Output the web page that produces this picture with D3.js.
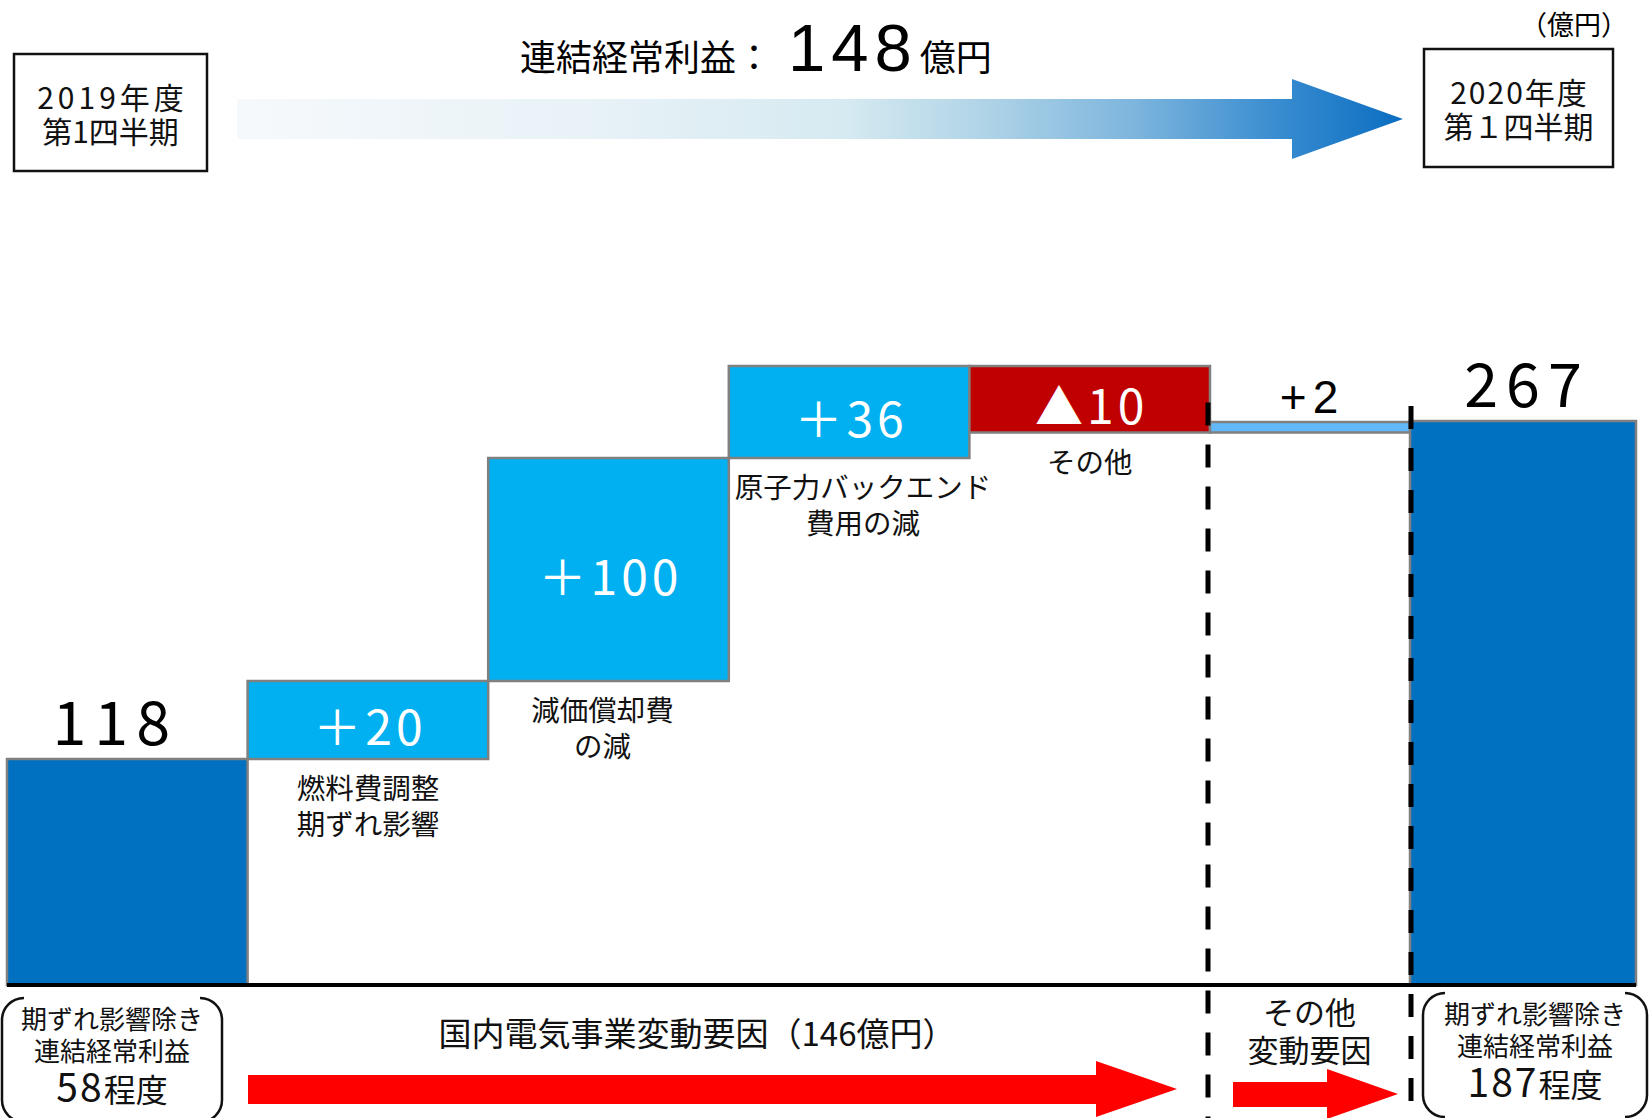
<!DOCTYPE html>
<html><head><meta charset="utf-8">
<script src="https://cdn.jsdelivr.net/npm/d3@7"></script>
<style>body{margin:0;background:#fff} svg{display:block}</style>
</head><body><svg id="c" width="1650" height="1118"></svg>
<script>
// ---------- data ----------
const categories = ["2019年度第1四半期", "燃料費調整期ずれ影響", "減価償却費の減", "原子力バックエンド費用の減", "その他", "その他変動要因", "2020年度第1四半期"];
const values = [118, 20, 100, 36, -10, 2, 267];
const kinds = ["total", "up", "up", "up", "down", "other", "total"];
const valueLabels = ["118", "＋20", "＋100", "＋36", "▲10", "+2", "267"];
const categoryLabels = [[], ["燃料費調整", "期ずれ影響"], ["減価償却費", "の減"], ["原子力バックエンド", "費用の減"], ["その他"], [], []];
const mainGroup = categories.slice(0, 5);
const tailGroup = categories.slice(5);
const titleParts = ["連結経常利益：", "148", "億円"];
const startPeriod = ["2019年度", "第1四半期"];
const endPeriod = ["2020年度", "第１四半期"];
const startAdjusted = ["期ずれ影響除き", "連結経常利益", "58", "程度"];
const endAdjusted = ["期ずれ影響除き", "連結経常利益", "187", "程度"];
const groupLabel1 = "国内電気事業変動要因（146億円）";
const groupLabel2 = ["その他", "変動要因"];
const unitLabel = "（億円）";

// ---------- layout ----------
const W = 1650, H = 1118;
const CJK = "'Noto Sans CJK JP', 'Noto Sans CJK SC', sans-serif";
const LAT = "'Liberation Sans', Arial, sans-serif";
const colors = {total: "#0070c0", up: "#00b0f0", down: "#c00000", other: "#62b8f8"};
const svg = d3.select("#c");

// waterfall geometry
let cum = 0;
const bars = values.map((v, i) => {
  let a, b;
  if (kinds[i] === "total") { a = 0; b = v; cum = v; }
  else { a = cum; b = cum + v; cum = b; }
  return {i, cat: categories[i], v, kind: kinds[i], lo: Math.min(a, b), hi: Math.max(a, b),
          label: valueLabels[i], lines: categoryLabels[i]};
});

// x: domestic-electric region (5 bands) and tail region (other factors + result)
const xMain = d3.scaleBand().domain(mainGroup).range([7, 1210]).paddingInner(0);
const xTail = d3.scaleBand().domain(tailGroup).range([1184, 1636]).paddingInner(0);
const regionEdge = xMain.range()[1];
function barX(d) {
  if (mainGroup.includes(d.cat)) return [xMain(d.cat), xMain.bandwidth()];
  const x0 = Math.max(xTail(d.cat), regionEdge);
  return [x0, xTail(d.cat) + xTail.bandwidth() - x0];
}

// y: schematic (not-to-scale) piecewise linear scale over the waterfall levels
const levels = Array.from(new Set(bars.flatMap(b => [b.lo, b.hi]))).sort((a, b) => a - b);
const levelPx = [985, 759, 681, 458, 432.5, 422, 421, 366];
const y = d3.scaleLinear().domain(levels).range(levelPx);

// multi-line text in a single element
function multiText(x, yb, lines, lh, size, opts = {}) {
  const t = svg.append("text").attr("x", x).attr("y", yb).attr("text-anchor", "middle")
    .attr("font-family", CJK).attr("font-size", size).attr("fill", opts.fill || "#111");
  lines.forEach((ln, k) => {
    const s = t.append("tspan").attr("x", x + ((opts.dxs && opts.dxs[k]) || 0)).attr("y", yb + k * lh).text(ln);
    if (opts.ls && opts.ls[k]) s.attr("letter-spacing", opts.ls[k]);
  });
  return t;
}

// ---------- top header ----------
const defs = svg.append("defs");
const grad = defs.append("linearGradient").attr("id", "g1")
  .attr("gradientUnits", "userSpaceOnUse").attr("x1", 237).attr("x2", 1403).attr("y1", 0).attr("y2", 0);
[[0, "#f6f9fc"], [0.3, "#e8f2f7"], [0.52, "#d6eaf1"], [0.64, "#b0d4e7"], [0.77, "#7db5dd"], [0.89, "#3a8dd0"], [1, "#0a6dc1"]]
  .forEach(s => grad.append("stop").attr("offset", s[0]).attr("stop-color", s[1]));
svg.append("path").attr("fill", "url(#g1)")
  .attr("d", "M237,99 L1292,99 L1292,79 L1403,119 L1292,159 L1292,139 L237,139 Z");

const title = svg.append("text").attr("x", 520).attr("y", 71).attr("fill", "#000");
title.append("tspan").attr("font-family", CJK).attr("font-size", 36).text(titleParts[0]);
title.append("tspan").attr("font-family", LAT).attr("font-size", 67).attr("dx", 16)
  .attr("letter-spacing", 6).text(titleParts[1]);
title.append("tspan").attr("font-family", CJK).attr("font-size", 36).attr("letter-spacing", 0).attr("dx", 2).text(titleParts[2]);

function periodBox(x0, y0, x1, y1, lines, ls) {
  svg.append("rect").attr("x", x0).attr("y", y0).attr("width", x1 - x0).attr("height", y1 - y0)
    .attr("fill", "#fff").attr("stroke", "#111").attr("stroke-width", 2.5);
  const cx = (x0 + x1) / 2;
  multiText(cx, y0 + 55, lines, 34, 30, {ls: [ls, 0], dxs: [ls / 2, 0]});
}
periodBox(14, 54, 207, 171, startPeriod, 4);
periodBox(1424, 49, 1613, 167, endPeriod, 2);

svg.append("text").attr("x", 1628).attr("y", 35).attr("text-anchor", "end")
  .attr("font-family", CJK).attr("font-size", 27).text(unitLabel);

// ---------- bars ----------
svg.append("g").selectAll("rect").data(bars).join("rect")
  .attr("x", d => barX(d)[0]).attr("width", d => barX(d)[1])
  .attr("y", d => y(d.hi)).attr("height", d => y(d.lo) - y(d.hi))
  .attr("fill", d => colors[d.kind]).attr("stroke", "#808080").attr("stroke-width", 2.5);

// value labels
const vl = svg.append("g");
bars.forEach(d => {
  const [bx, bwid] = barX(d);
  const cx = bx + bwid / 2;
  const t = vl.append("text").attr("text-anchor", "middle").text(d.label);
  if (d.kind === "total") {
    t.attr("x", cx + 4 - (d.i === 0 ? 16 : 0)).attr("y", y(d.hi) - 14).attr("font-family", CJK).attr("font-size", 61)
      .attr("letter-spacing", 8).attr("fill", "#000");
  } else if (d.kind === "other") {
    t.attr("x", cx + 2).attr("y", y(d.hi) - 9).attr("font-family", LAT).attr("font-size", 46)
      .attr("letter-spacing", 6).attr("fill", "#000");
  } else {
    t.attr("x", cx + 2).attr("y", (y(d.hi) + y(d.lo)) / 2 + 25).attr("font-family", CJK).attr("font-size", 48)
      .attr("letter-spacing", 4).attr("fill", "#fff");
  }
});

// category labels below the floating bars
const labelShift = {"原子力バックエンド費用の減": 14, "減価償却費の減": -6};
bars.forEach(d => {
  if (!d.lines.length) return;
  const [bx, bwid] = barX(d);
  const cx = bx + bwid / 2 + (labelShift[d.cat] || 0);
  multiText(cx, y(d.lo) + 40, d.lines, 36, 28.5);
});

// baseline
svg.append("line").attr("x1", 7).attr("x2", 1636).attr("y1", y(0)).attr("y2", y(0))
  .attr("stroke", "#000").attr("stroke-width", 4);

// dashed region separators
const sep1 = regionEdge - 2;
const sep2 = xTail(tailGroup[1]) + 1;
[[sep1, y(264) - 30], [sep2, y(267) - 15]].forEach(([x, top]) => {
  svg.append("line").attr("x1", x).attr("x2", x).attr("y1", top).attr("y2", H)
    .attr("stroke", "#000").attr("stroke-width", 5).attr("stroke-dasharray", "23,19");
});

// ---------- bottom annotations ----------
svg.append("path").attr("fill", "#ff0000")
  .attr("d", "M248,1075 L1096,1075 L1096,1061 L1177,1089 L1096,1117 L1096,1104 L248,1104 Z");
svg.append("path").attr("fill", "#ff0000")
  .attr("d", "M1233,1082 L1327,1082 L1327,1069 L1398,1094 L1327,1119 L1327,1107 L1233,1107 Z");

svg.append("text").attr("x", 697).attr("y", 1046).attr("text-anchor", "middle")
  .attr("font-family", CJK).attr("font-size", 33).attr("fill", "#111").text(groupLabel1);
multiText((sep1 + sep2) / 2, 1024, groupLabel2, 38, 31);

function bracketBox(x0, y0, x1, y1, lines) {
  const r = 22;
  svg.append("path").attr("fill", "none").attr("stroke", "#111").attr("stroke-width", 2.5)
    .attr("d", `M${x0 + r},${y0} A${r},${r} 0 0 0 ${x0},${y0 + r} L${x0},${y1 - r} A${r},${r} 0 0 0 ${x0 + r},${y1}`);
  svg.append("path").attr("fill", "none").attr("stroke", "#111").attr("stroke-width", 2.5)
    .attr("d", `M${x1 - r},${y0} A${r},${r} 0 0 1 ${x1},${y0 + r} L${x1},${y1 - r} A${r},${r} 0 0 1 ${x1 - r},${y1}`);
  const cx = (x0 + x1) / 2;
  const t = multiText(cx, y0 + 31, [lines[0], lines[1]], 32, 26);
  const last = t.append("tspan").attr("x", cx).attr("y", y0 + 104);
  last.append("tspan").attr("font-size", 39).attr("letter-spacing", 2).text(lines[2]);
  last.append("tspan").attr("font-size", 32).attr("letter-spacing", 0).text(lines[3]);
}
bracketBox(2, 998, 222, 1122, startAdjusted);
bracketBox(sep2 + 12, 993, 1647, 1117, endAdjusted);
</script>
</body></html>
